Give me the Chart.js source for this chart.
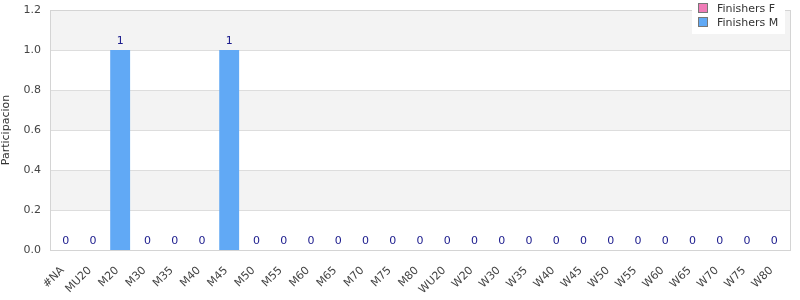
<!DOCTYPE html>
<html>
<head>
<meta charset="utf-8">
<style>
  html, body { margin: 0; padding: 0; background: #fff; }
  #wrap { width: 800px; height: 300px; }
</style>
<script src="https://cdn.jsdelivr.net/npm/chart.js@4.4.1/dist/chart.umd.min.js"></script>
</head>
<body>
<div id="wrap"><canvas id="chart" width="800" height="300"></canvas></div>
<script>
const categories = ['#NA', 'MU20', 'M20', 'M30', 'M35', 'M40', 'M45', 'M50', 'M55', 'M60', 'M65', 'M70', 'M75', 'M80',
    'WU20', 'W20', 'W30', 'W35', 'W40', 'W45', 'W50', 'W55', 'W60', 'W65', 'W70', 'W75', 'W80'];
const finishersF = [0, 0, 0, 0, 0, 0, 0, 0, 0, 0, 0, 0, 0, 0, 0, 0, 0, 0, 0, 0, 0, 0, 0, 0, 0, 0, 0];
const finishersM = [0, 0, 1, 0, 0, 0, 1, 0, 0, 0, 0, 0, 0, 0, 0, 0, 0, 0, 0, 0, 0, 0, 0, 0, 0, 0, 0];
const yTicks = [0, 0.2, 0.4, 0.6, 0.8, 1.0, 1.2];

const fontFamily = '"DejaVu Sans", Verdana, sans-serif';
const frameGap = 2; // plot frame sits a little outside the category range

// alternating grey bands behind the bars
const bandsPlugin = {
    id: 'bands',
    beforeDatasetsDraw(chart) {
        const { ctx, chartArea, scales } = chart;
        const left = chartArea.left - frameGap;
        const right = chartArea.right + frameGap;
        ctx.save();
        for (let i = 0; i < yTicks.length - 1; i++) {
            if (i % 2 === 0) continue;
            const top = scales.y.getPixelForValue(yTicks[i + 1]);
            const bottom = scales.y.getPixelForValue(yTicks[i]);
            ctx.fillStyle = '#f3f3f3';
            ctx.fillRect(left, top, right - left, bottom - top);
        }
        // grid lines
        ctx.strokeStyle = '#dddddd';
        ctx.lineWidth = 1;
        yTicks.forEach(v => {
            const y = Math.round(scales.y.getPixelForValue(v)) + 0.5;
            ctx.beginPath();
            ctx.moveTo(left, y);
            ctx.lineTo(right, y);
            ctx.stroke();
        });
        ctx.strokeStyle = '#d4d4d4';
        ctx.strokeRect(Math.round(left) + 0.5, Math.round(chartArea.top) + 0.5,
            Math.round(right - left), Math.round(chartArea.bottom - chartArea.top));
        ctx.restore();
    }
};

// value labels above each stack
const valueLabels = {
    id: 'valueLabels',
    afterDatasetsDraw(chart) {
        const { ctx } = chart;
        const meta = chart.getDatasetMeta(1);
        ctx.save();
        ctx.font = '11px ' + fontFamily;
        ctx.fillStyle = '#1a1a8c';
        ctx.textAlign = 'center';
        ctx.textBaseline = 'bottom';
        meta.data.forEach((bar, i) => {
            const total = finishersF[i] + finishersM[i];
            ctx.fillText(String(total), bar.x, bar.y - 3);
        });
        ctx.restore();
    }
};

// legend box drawn over the top right corner of the plot
const cornerLegend = {
    id: 'cornerLegend',
    afterDraw(chart) {
        const { ctx } = chart;
        const items = chart.data.datasets;
        const x = 692, y = 0, w = 93, h = 34;
        ctx.save();
        ctx.fillStyle = '#ffffff';
        ctx.fillRect(x, y, w, h);
        ctx.font = '11px ' + fontFamily;
        ctx.textBaseline = 'middle';
        items.forEach((ds, i) => {
            const cy = 8 + i * 14;
            ctx.fillStyle = ds.backgroundColor;
            ctx.fillRect(x + 7, cy - 4, 8, 8);
            ctx.strokeStyle = '#777';
            ctx.lineWidth = 1;
            ctx.strokeRect(x + 6.5, cy - 4.5, 9, 9);
            ctx.fillStyle = '#333';
            ctx.fillText(ds.label, x + 25, cy + 1);
        });
        ctx.restore();
    }
};

new Chart(document.getElementById('chart'), {
    type: 'bar',
    data: {
        labels: categories,
        datasets: [
            { label: 'Finishers F', data: finishersF, backgroundColor: '#f07cb8', stack: 's' },
            { label: 'Finishers M', data: finishersM, backgroundColor: '#61a9f5', stack: 's' }
        ]
    },
    options: {
        responsive: false,
        animation: false,
        layout: { padding: { top: 10, right: 12, left: 0, bottom: 0 } },
        plugins: {
            legend: { display: false },
            tooltip: { enabled: false }
        },
        datasets: {
            bar: { categoryPercentage: 0.73, barPercentage: 1.0 }
        },
        scales: {
            x: {
                stacked: true,
                grid: { display: false, drawTicks: false },
                border: { display: false },
                ticks: {
                    minRotation: 45,
                    maxRotation: 45,
                    autoSkip: false,
                    padding: 14,
                    labelOffset: -3,
                    color: '#444',
                    font: { family: fontFamily, size: 11 }
                },
                afterFit(scale) {
                    scale.height = 50;
                    scale.paddingLeft = 0;
                    scale.paddingRight = 0;
                }
            },
            y: {
                stacked: true,
                min: 0,
                max: 1.2,
                grid: { display: false, drawTicks: false },
                border: { display: false },
                title: {
                    display: true,
                    text: 'Participacion',
                    color: '#333',
                    padding: 0,
                    font: { family: fontFamily, size: 11 }
                },
                ticks: {
                    stepSize: 0.2,
                    padding: 11,
                    color: '#444',
                    font: { family: fontFamily, size: 11 },
                    callback: v => Number(v).toFixed(1)
                },
                afterFit(scale) {
                    scale.width = 52;
                    scale.paddingTop = 0;
                    scale.paddingBottom = 0;
                }
            }
        }
    },
    plugins: [bandsPlugin, valueLabels, cornerLegend]
});
</script>
</body>
</html>
